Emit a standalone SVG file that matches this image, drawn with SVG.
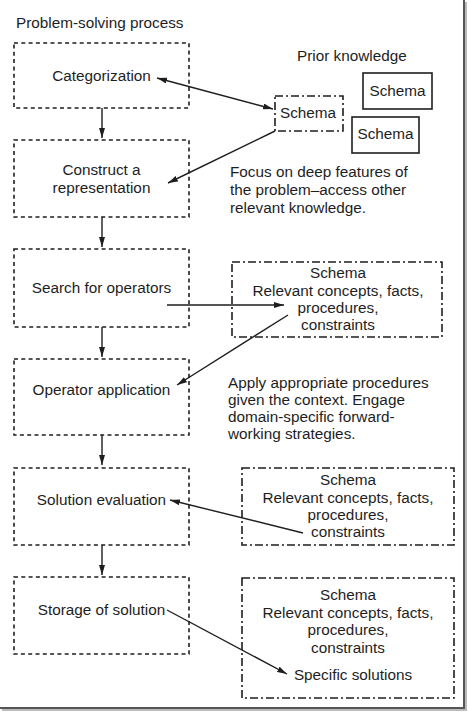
<svg xmlns="http://www.w3.org/2000/svg" width="468" height="713" viewBox="0 0 468 713">
<defs>
<style>
text{font-family:"Liberation Sans",Arial,sans-serif;font-size:15.3px;fill:#1e1e1e}
.m{text-anchor:middle}
.proc{fill:none;stroke:#1e1e1e;stroke-width:1.6;stroke-dasharray:4 3.3}
.kn{fill:none;stroke:#1e1e1e;stroke-width:1.6;stroke-dasharray:8 3 2 3}
.sol{fill:none;stroke:#1e1e1e;stroke-width:1.6}
.c{fill:none;stroke:#1e1e1e;stroke-width:1.4}
</style>
<marker id="ah" viewBox="0 0 10 6" refX="10" refY="3" markerWidth="10" markerHeight="6" markerUnits="userSpaceOnUse" orient="auto-start-reverse">
<path d="M0,0 L10,3 L0,6 Z" fill="#1e1e1e"/>
</marker>
</defs>
<rect width="468" height="713" fill="#fff"/>
<!-- frame shadow -->
<line x1="464" y1="0" x2="464" y2="708" stroke="#555" stroke-width="2"/>
<line x1="466" y1="2" x2="466" y2="710" stroke="#bbb" stroke-width="2"/>
<line x1="0" y1="708" x2="465" y2="708" stroke="#555" stroke-width="2"/>
<line x1="2" y1="710" x2="467" y2="710" stroke="#bbb" stroke-width="2"/>

<text x="16" y="28">Problem-solving process</text>

<g id="categorization">
<rect class="proc" x="14" y="43" width="175" height="65"/>
<text class="m" x="101.5" y="81">Categorization</text>
</g>
<g id="construct">
<rect class="proc" x="14" y="140" width="175" height="77"/>
<text class="m" x="101.5" y="175">Construct a</text>
<text class="m" x="101.5" y="193">representation</text>
</g>
<g id="search">
<rect class="proc" x="14" y="249" width="175" height="78"/>
<text class="m" x="101.5" y="293">Search for operators</text>
</g>
<g id="operator">
<rect class="proc" x="14" y="359" width="175" height="76"/>
<text class="m" x="101.5" y="395">Operator application</text>
</g>
<g id="evaluation">
<rect class="proc" x="14" y="468" width="175" height="77"/>
<text class="m" x="101.5" y="505">Solution evaluation</text>
</g>
<g id="storage">
<rect class="proc" x="14" y="577" width="175" height="77"/>
<text class="m" x="101.5" y="615">Storage of solution</text>
</g>

<g id="prior">
<text x="297" y="61">Prior knowledge</text>
</g>
<g id="schemaA">
<rect class="sol" x="363" y="73" width="69" height="36"/>
<text class="m" x="397.5" y="96">Schema</text>
</g>
<g id="schemaB">
<rect class="sol" x="352" y="117" width="67" height="36"/>
<text class="m" x="385.5" y="139">Schema</text>
</g>
<g id="schemaActive">
<rect class="kn" x="275" y="96" width="68" height="35"/>
<text class="m" x="308" y="118">Schema</text>
</g>
<g id="note1">
<text x="230" y="177">Focus on deep features of</text>
<text x="230" y="195">the problem–access other</text>
<text x="230" y="213">relevant knowledge.</text>
</g>
<g id="schema3">
<rect class="kn" x="232" y="262" width="210" height="75"/>
<text class="m" x="338" y="278">Schema</text>
<text class="m" x="338" y="296">Relevant concepts, facts,</text>
<text class="m" x="338" y="313">procedures,</text>
<text class="m" x="338" y="330">constraints</text>
</g>
<g id="note2">
<text x="228" y="388">Apply appropriate procedures</text>
<text x="228" y="405">given the context. Engage</text>
<text x="228" y="422">domain-specific forward-</text>
<text x="228" y="439">working strategies.</text>
</g>
<g id="schema4">
<rect class="kn" x="242" y="468" width="212" height="77"/>
<text class="m" x="348" y="485">Schema</text>
<text class="m" x="348" y="503">Relevant concepts, facts,</text>
<text class="m" x="348" y="520">procedures,</text>
<text class="m" x="348" y="537">constraints</text>
</g>
<g id="schema5">
<rect class="kn" x="242" y="578" width="212" height="120"/>
<text class="m" x="348" y="600">Schema</text>
<text class="m" x="348" y="618">Relevant concepts, facts,</text>
<text class="m" x="348" y="635">procedures,</text>
<text class="m" x="348" y="653">constraints</text>
<text class="m" x="353" y="680">Specific solutions</text>
</g>

<g id="connectors">
<line class="c" x1="102" y1="108" x2="102" y2="138" marker-end="url(#ah)"/>
<line class="c" x1="102" y1="217" x2="102" y2="247" marker-end="url(#ah)"/>
<line class="c" x1="102" y1="327" x2="102" y2="357" marker-end="url(#ah)"/>
<line class="c" x1="102" y1="435" x2="102" y2="465" marker-end="url(#ah)"/>
<line class="c" x1="102" y1="545" x2="102" y2="575" marker-end="url(#ah)"/>
<line class="c" x1="157" y1="78" x2="273" y2="109" marker-start="url(#ah)" marker-end="url(#ah)"/>
<line class="c" x1="275" y1="131" x2="168" y2="183" marker-end="url(#ah)"/>
<line class="c" x1="167" y1="305" x2="284" y2="305" marker-end="url(#ah)"/>
<line class="c" x1="288" y1="315" x2="177" y2="385" marker-end="url(#ah)"/>
<line class="c" x1="303" y1="533" x2="170" y2="500" marker-end="url(#ah)"/>
<line class="c" x1="167" y1="610" x2="287" y2="674" marker-end="url(#ah)"/>
</g>
</svg>
